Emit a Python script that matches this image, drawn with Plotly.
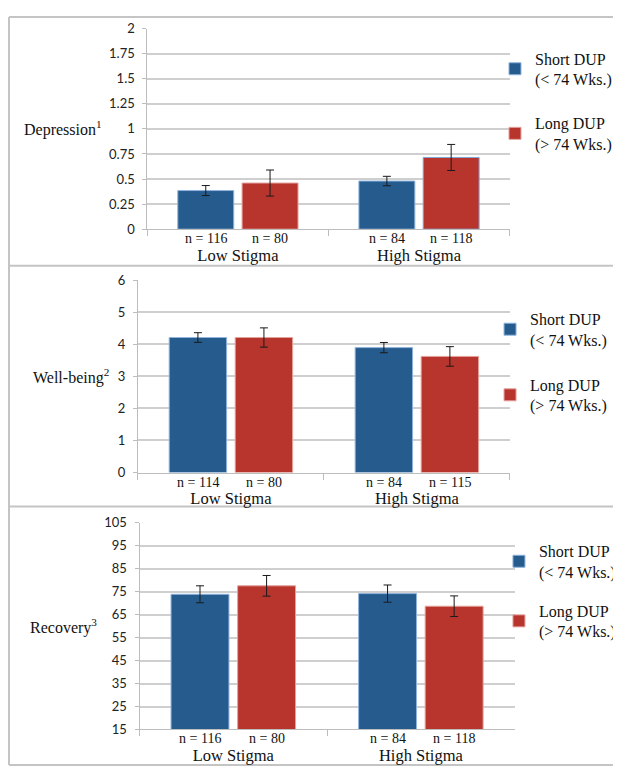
import plotly.graph_objects as go

# ---------------- data ----------------
categories = ["Low Stigma", "High Stigma"]
series_names = ["Short DUP<br>(&lt; 74 Wks.)", "Long DUP<br>(&gt; 74 Wks.)"]

dep_short = [0.385, 0.48]
dep_short_err = [0.05, 0.047]
dep_long = [0.46, 0.715]
dep_long_err = [0.13, 0.13]
dep_n_short = [116, 84]
dep_n_long = [80, 118]

wb_short = [4.21, 3.895]
wb_short_err = [0.15, 0.16]
wb_long = [4.21, 3.62]
wb_long_err = [0.3, 0.305]
wb_n_short = [114, 84]
wb_n_long = [80, 115]

rec_short = [73.9, 74.2]
rec_short_err = [3.7, 3.75]
rec_long = [77.6, 68.7]
rec_long_err = [4.5, 4.5]
rec_n_short = [116, 84]
rec_n_long = [80, 118]

panel_titles = ["Depression<sup>1</sup>", "Well-being<sup>2</sup>", "Recovery<sup>3</sup>"]

# ---------------- style ----------------
OFF = 8                      # page body margin of the browser
W, H = 621 - OFF, 775 - OFF  # figure fills the rest of the window
BLUE = "#265B8D"
RED = "#B8352E"
BLUE_EDGE = "#8FB4DD"
RED_EDGE = "#E3A29C"
GRID = "#CFCFCF"
AXIS = "#BDBDBD"
SERIF = "Liberation Serif, Times New Roman, serif"
SANS = "Lato, Carlito, Calibri, sans-serif"
BARGAP = 0.29
BARGROUPGAP = 0.13


def px_x(p):
    """screen x pixel -> paper x"""
    return (p - OFF) / W


def px_y(p):
    """screen y pixel -> paper y"""
    return 1 - (p - OFF) / H


panels = [
    dict(short=dep_short, se=dep_short_err, long=dep_long, le=dep_long_err,
         ns=dep_n_short, nl=dep_n_long, title=panel_titles[0],
         xd=[148.5, 513.7], yd=[225.7, 20.9], rng=[0, 2], tick0=0, dtick=0.25,
         legx=499, legy=34, tgap=20, titlex=63, long_edge=[RED_EDGE, "#7FA8D6"]),
    dict(short=wb_short, se=wb_short_err, long=wb_long, le=wb_long_err,
         ns=wb_n_short, nl=wb_n_long, title=panel_titles[1],
         xd=[139, 514], yd=[474.3, 277.7], rng=[0, 6], tick0=0, dtick=1,
         legx=494, legy=300, tgap=21, titlex=72, long_edge=[RED_EDGE, RED_EDGE]),
    dict(short=rec_short, se=rec_short_err, long=rec_long, le=rec_long_err,
         ns=rec_n_short, nl=rec_n_long, title=panel_titles[2],
         xd=[140.6, 518.8], yd=[736.7, 525.7], rng=[15, 105], tick0=15, dtick=10,
         legx=503, legy=537, tgap=15, titlex=64, long_edge=[RED_EDGE, RED_EDGE]),
]

fig = go.Figure()
annotations = []
layout_axes = {}
legends = {}

for i, p in enumerate(panels):
    k = "" if i == 0 else str(i + 1)
    xa, ya = "x" + k, "y" + k
    leg = "legend" + k
    err_style = dict(type="data", visible=True, color="#1a1a1a", thickness=1, width=4)
    fig.add_trace(go.Bar(
        x=categories, y=p["short"], name=series_names[0], xaxis=xa, yaxis=ya,
        marker=dict(color=BLUE, line=dict(color=BLUE_EDGE, width=1)),
        error_y=dict(array=p["se"], **err_style),
        legend=leg, legendgroup="s" + k, offsetgroup="s",
    ))
    fig.add_trace(go.Bar(
        x=categories, y=p["long"], name=series_names[1], xaxis=xa, yaxis=ya,
        marker=dict(color=RED, line=dict(color=p["long_edge"], width=1)),
        error_y=dict(array=p["le"], **err_style),
        legend=leg, legendgroup="l" + k, offsetgroup="l",
    ))

    layout_axes["xaxis" + k] = dict(
        domain=[px_x(p["xd"][0]), px_x(p["xd"][1])], anchor=ya,
        type="category", showline=True, linecolor=AXIS, linewidth=1,
        ticks="outside", tickson="boundaries", ticklen=6, tickcolor=AXIS,
        showgrid=False, zeroline=False, fixedrange=True,
        tickfont=dict(family=SERIF, size=16.5, color="#111"),
        ticklabelstandoff=11,
    )
    layout_axes["yaxis" + k] = dict(
        domain=[px_y(p["yd"][0]), px_y(p["yd"][1])], anchor=xa,
        range=p["rng"], tick0=p["tick0"], dtick=p["dtick"], tickmode="linear",
        showline=True, linecolor=AXIS, linewidth=1, ticks="outside", ticklen=4,
        tickcolor=AXIS, showgrid=True, gridcolor=GRID, gridwidth=1.5,
        zeroline=False, fixedrange=True, ticklabelstandoff=5,
        tickfont=dict(family=SANS, size=13, color="#222"),
    )
    legends[leg] = dict(
        x=px_x(p["legx"]), y=px_y(p["legy"]), xanchor="left", yanchor="top",
        bgcolor="rgba(0,0,0,0)", borderwidth=0, tracegroupgap=p["tgap"],
        font=dict(family=SERIF, size=16, color="#111"), itemclick=False,
    )

    # bar-offset of each series within a category, in category units
    slot = (1 - BARGAP) / 2
    for j, cat in enumerate(categories):
        for off, nval in ((-slot / 2, p["ns"][j]), (slot / 2, p["nl"][j])):
            annotations.append(dict(
                x=j + off, y=0, xref=xa, yref=ya + " domain", yanchor="top",
                xanchor="center", yshift=0, showarrow=False,
                text=f"n = {nval}", font=dict(family=SERIF, size=14, color="#111"),
            ))
    ymid = (p["yd"][0] + p["yd"][1]) / 2
    annotations.append(dict(
        x=px_x(p["titlex"]), y=px_y(ymid), xref="paper", yref="paper",
        xanchor="center", yanchor="middle", showarrow=False, text=p["title"],
        font=dict(family=SERIF, size=16, color="#111"),
    ))

shapes = []
BORDER = "#C4C4C4"
for yy in (9, 263, 509, 773):
    shapes.append(dict(type="line", xref="paper", yref="paper", layer="below",
                       x0=px_x(9), x1=1, y0=px_y(yy), y1=px_y(yy),
                       line=dict(color=BORDER, width=2)))
shapes.append(dict(type="line", xref="paper", yref="paper", layer="below",
                   x0=px_x(9), x1=px_x(9), y0=px_y(9), y1=px_y(773),
                   line=dict(color=BORDER, width=2)))

fig.update_layout(
    width=W, height=H, autosize=False,
    margin=dict(l=0, r=0, t=0, b=0),
    paper_bgcolor="white", plot_bgcolor="white",
    barmode="group", bargap=BARGAP, bargroupgap=BARGROUPGAP,
    showlegend=True, annotations=annotations, shapes=shapes,
    **layout_axes, **legends,
)

fig.write_html("out.html")
